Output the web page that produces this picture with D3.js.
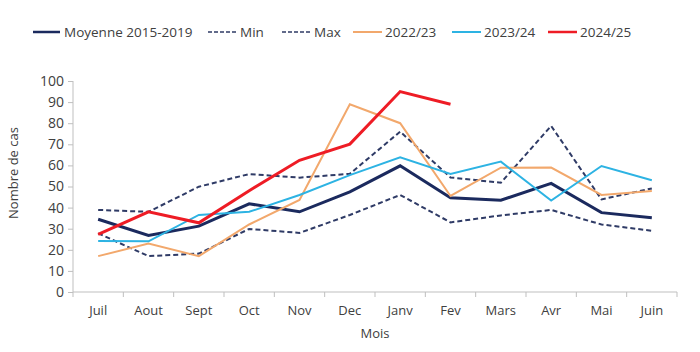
<!DOCTYPE html>
<html><head><meta charset="utf-8">
<script src="https://cdn.jsdelivr.net/npm/d3@7"></script>
<style>body{margin:0;background:#fff}text{font-family:"Open Sans",sans-serif;fill:#404040}</style>
</head><body><svg id="c" width="700" height="352"></svg>
<script>
const months = ["Juil","Aout","Sept","Oct","Nov","Dec","Janv","Fev","Mars","Avr","Mai","Juin"];
const moyenne = [34.5,26.8,31.2,41.8,38,47.5,59.8,44.7,43.5,51.5,37.6,35.2];
const minVals = [27.8,17,18.2,29.9,28,36.5,46,33,36.3,38.9,32,29];
const maxVals = [38.9,38,49.9,55.9,54.2,56,76,54.3,51.8,78.7,43.9,49.1];
const s2223 = [17,23,17,32,43.6,89,80,45.5,58.9,59,46,47.9];
const s2324 = [24.2,24,36.5,38,46,55.4,63.8,55.9,61.8,43.3,59.7,53];
const s2425 = [27.3,38,32.8,48,62.4,70.1,95,89];
const yTicks = [0,10,20,30,40,50,60,70,80,90,100];

const series = [
  {name:"Moyenne 2015-2019", values:moyenne, color:"#1b2a5e", width:3, dash:null},
  {name:"Min", values:minVals, color:"#2f3b66", width:2, dash:"5,3"},
  {name:"Max", values:maxVals, color:"#2f3b66", width:2, dash:"5,3"},
  {name:"2022/23", values:s2223, color:"#f2a86c", width:2, dash:null},
  {name:"2023/24", values:s2324, color:"#2db3e3", width:2, dash:null},
  {name:"2024/25", values:s2425, color:"#ee1c25", width:3, dash:null}
];

const svg = d3.select("#c");
const x = d3.scaleBand().domain(months).range([73,677]);
const y = d3.scaleLinear().domain([0,100]).range([292,81]);
const axisColor = "#bfbfbf";

// Y axis
const ya = svg.append("g").attr("transform","translate(73,0)")
  .call(d3.axisLeft(y).tickValues(yTicks).tickSize(5).tickPadding(4));
ya.select(".domain").attr("stroke",axisColor).attr("d","M0,81V292");
ya.selectAll(".tick line").attr("stroke",axisColor);
ya.selectAll(".tick text").attr("font-size",14).attr("fill","#404040").attr("font-family","Open Sans, sans-serif");

// X axis
const xa = svg.append("g").attr("transform","translate(0,292)")
  .call(d3.axisBottom(x).tickSize(0).tickPadding(14));
xa.select(".domain").attr("stroke",axisColor).attr("d","M73,0H677");
xa.selectAll(".tick text").attr("font-size",13).attr("fill","#404040").attr("font-family","Open Sans, sans-serif");
const bounds = months.map((m,i)=>x(m)).concat([677]);
svg.append("g").selectAll("line").data(bounds).join("line")
  .attr("x1",d=>d).attr("x2",d=>d).attr("y1",292).attr("y2",297).attr("stroke",axisColor);

// Titles
svg.append("text").attr("x",375).attr("y",338).attr("text-anchor","middle").attr("font-size",13).text("Mois");
svg.append("text").attr("transform","translate(13,173) rotate(-90)").attr("text-anchor","middle").attr("dy","0.35em").attr("font-size",13).text("Nombre de cas");

// Lines
const line = d3.line().x((d,i)=>x(months[i])+x.bandwidth()/2).y(d=>y(d));
svg.append("g").selectAll("path").data(series).join("path")
  .attr("d",d=>line(d.values)).attr("fill","none")
  .attr("stroke",d=>d.color).attr("stroke-width",d=>d.width)
  .attr("stroke-dasharray",d=>d.dash).attr("stroke-linejoin","miter");

// Legend
const legX = [33,208,282,353,452,548];
const lg = svg.append("g").selectAll("g").data(series).join("g")
  .attr("transform",(d,i)=>`translate(${legX[i]},32)`);
lg.append("line").attr("x1",0).attr("x2",(d,i)=>i===0?27:29).attr("y1",0).attr("y2",0)
  .attr("stroke",d=>d.color).attr("stroke-width",d=>d.dash?1.6:(d.width>2?2.5:2)).attr("stroke-dasharray",d=>d.dash?"4,2":null);
lg.append("text").attr("x",(d,i)=>i===0?31:32).attr("y",0).attr("dy","0.35em").attr("font-size",13.5).text(d=>d.name);
</script></body></html>
